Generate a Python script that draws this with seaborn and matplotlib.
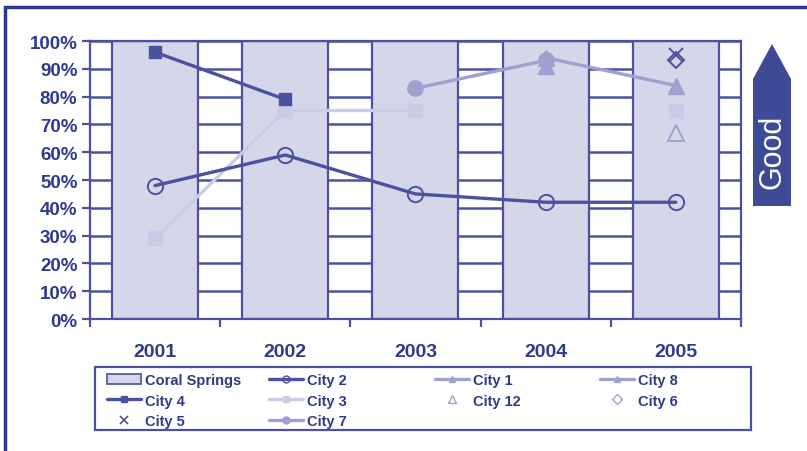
import numpy as np
import pandas as pd
import seaborn as sns
import matplotlib.pyplot as plt
from matplotlib.ticker import PercentFormatter
from matplotlib.patches import Polygon, Rectangle
from matplotlib.lines import Line2D

# data (percent)
years = ['2001', '2002', '2003', '2004', '2005']
coral_springs = [100, 100, 100, 100, 100]
city4 = [96, 79, np.nan, np.nan, np.nan]
city2 = [48, 59, 45, 42, 42]
city3 = [29, 75, 75, np.nan, 75]
city7 = [np.nan, np.nan, 83, 93, np.nan]
city1 = [np.nan, np.nan, np.nan, 94, 84]
city8 = [np.nan, np.nan, np.nan, 91, np.nan]
city12 = [np.nan, np.nan, np.nan, np.nan, 67]
city6 = [np.nan, np.nan, np.nan, np.nan, 93]
city5 = [np.nan, np.nan, np.nan, np.nan, 95]

dark = '#4a52a0'
mid = '#9ca1d0'
light = '#c9cce6'
text_c = '#2e3a8c'
bar_face = '#d4d6e9'

sns.set_theme(style='white')
plt.rcParams['font.family'] = ['Liberation Sans', 'DejaVu Sans']

fig = plt.figure(figsize=(8.07, 4.52), dpi=100)
ax = fig.add_axes([0.1115, 0.292, 0.8066, 0.615])

df = pd.DataFrame({'year': years, 'value': coral_springs})
sns.barplot(data=df, x='year', y='value', color=bar_face, saturation=1,
            width=0.66, edgecolor=dark, linewidth=1.6, ax=ax, zorder=2)

x = np.arange(len(years))
ax.plot(x, city4, color=dark, lw=2.4, marker='s', ms=9, zorder=4)
ax.plot(x, city2, color=dark, lw=2.4, marker='o', ms=11, mfc='none', mew=1.4, zorder=4)
ax.plot(x, city3, color=light, lw=2.4, marker='s', ms=10, zorder=3)
ax.plot(x, city7, color=mid, lw=2.4, marker='o', ms=11, zorder=3)
ax.plot(x, city1, color=mid, lw=2.4, marker='^', ms=11, zorder=3)
ax.plot(x, city8, color=mid, lw=2.4, marker='^', ms=11, zorder=3)
ax.plot(x, city12, color=mid, lw=0, marker='^', ms=11, mfc='none', mew=1.4, zorder=4)
ax.plot(x, city6, color=dark, lw=0, marker='D', ms=8, mfc='none', mew=1.4, zorder=4)
ax.plot(x, city5, color=dark, lw=0, marker='x', ms=10, mew=1.4, zorder=4)

ax.set_ylim(0, 100)
ax.set_xlim(-0.5, 4.5)
ax.set_yticks(range(0, 101, 10))
ax.yaxis.set_major_formatter(PercentFormatter(decimals=0))
ax.grid(axis='y', color=dark, lw=1.8, zorder=0)
ax.set_axisbelow(True)
ax.set_xlabel('')
ax.set_ylabel('')
for s in ax.spines.values():
    s.set_color(dark)
    s.set_linewidth(1.6)
ax.tick_params(axis='y', length=6, width=1.6, color=dark, labelsize=13.5,
               labelcolor=text_c, left=True, pad=3)
ax.tick_params(axis='x', length=0, labelsize=14, labelcolor=text_c, pad=17)
ax.set_xticks(np.arange(-0.5, 5, 1), minor=True)
ax.tick_params(axis='x', which='minor', length=6, width=1.6, color=dark, bottom=True)
for lab in ax.get_xticklabels() + ax.get_yticklabels():
    lab.set_fontweight('bold')

# legend: one small legend per column, inside a common frame
handles = [
    Rectangle((0, 0), 1, 1, fc=bar_face, ec=dark, lw=1.2),
    Line2D([], [], color=dark, lw=2.4, marker='s', ms=5),
    Line2D([], [], color=dark, lw=0, marker='x', ms=6, mew=1.2),
    Line2D([], [], color=dark, lw=2.4, marker='o', ms=5, mfc='none'),
    Line2D([], [], color=light, lw=2.4, marker='s', ms=5),
    Line2D([], [], color=mid, lw=2.4, marker='o', ms=5),
    Line2D([], [], color=mid, lw=2.4, marker='^', ms=5),
    Line2D([], [], color=mid, lw=0, marker='^', ms=6, mfc='none'),
    Line2D([], [], color=mid, lw=2.4, marker='^', ms=5),
    Line2D([], [], color=mid, lw=0, marker='D', ms=5, mfc='none'),
]
labels = ['Coral Springs', 'City 4', 'City 5', 'City 2', 'City 3', 'City 7',
          'City 1', 'City 12', 'City 8', 'City 6']
columns = [[0, 1, 2], [3, 4, 5], [6, 7], [8, 9]]
col_x = [107, 269, 435, 600]
for idx, cx in zip(columns, col_x):
    fig.legend([handles[i] for i in idx], [labels[i] for i in idx],
               loc='upper left', bbox_to_anchor=(cx / 807, 1 - 374 / 452),
               frameon=False, prop={'weight': 'bold', 'size': 10.5},
               labelcolor=text_c, handlelength=2.3, handletextpad=0.3,
               labelspacing=0.45, borderaxespad=0, borderpad=0)
fig.add_artist(Rectangle((95 / 807, 1 - 431 / 452), 656 / 807, 63 / 452,
                         transform=fig.transFigure, fill=False, ec=dark, lw=1.6))

# "Good" arrow at right
pts = [(753, 207), (753, 80), (772, 45), (791, 80), (791, 207)]
arrow = Polygon([(px / 807, 1 - py / 452) for px, py in pts], closed=True,
                transform=fig.transFigure, fc='#3f4a96', ec='none')
fig.add_artist(arrow)
fig.text(772 / 807, 1 - 152 / 452, 'Good', rotation=90, color='white',
         fontsize=22, ha='center', va='center')

# outer frame (only left and top edges fall inside the picture)
top = 1 - 8 / 452
fig.add_artist(Rectangle((5 / 807, -0.2), 1.2, top + 0.2,
                         transform=fig.transFigure, fill=False, ec='#2b3a8f', lw=2.5))

fig.savefig('out.png', dpi=100)
